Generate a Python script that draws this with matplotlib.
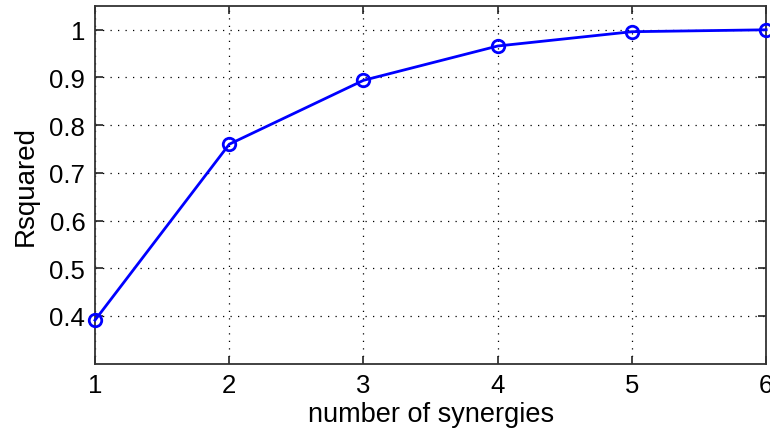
import matplotlib
matplotlib.use('Agg')
import matplotlib.pyplot as plt

# R-squared of the reconstruction vs. number of synergies
n_synergies = [1, 2, 3, 4, 5, 6]
rsquared = [0.391, 0.760, 0.894, 0.966, 0.996, 1.000]
ytick_vals = [0.4, 0.5, 0.6, 0.7, 0.8, 0.9, 1.0]
ytick_labels = ['0.4', '0.5', '0.6', '0.7', '0.8', '0.9', '1']

plt.rcParams['font.family'] = ['Liberation Sans', 'DejaVu Sans']

fig = plt.figure(figsize=(7.7, 4.35), dpi=100)
ax = fig.add_axes([0.1234, 0.162, 0.8716, 0.822])

ax.plot(n_synergies, rsquared, color='#0000ff', lw=2, marker='o',
        markersize=9, markerfacecolor='none', markeredgewidth=2,
        clip_on=False, zorder=3)

ax.set_xlim(1, 6)
ax.set_ylim(0.3, 1.05)
ax.set_xticks(n_synergies)
ax.set_yticks(ytick_vals)
ax.set_yticklabels(ytick_labels)

ax.grid(True, linestyle=(0, (1, 5)), color='black', linewidth=0.9)
ax.tick_params(direction='in', length=6, width=1.2, labelsize=18.5,
               top=True, right=True, pad=7, colors='#222222',
               labelcolor='black')
for sp in ax.spines.values():
    sp.set_linewidth(1.3)
    sp.set_color('#333333')

ax.set_xlabel('number of synergies', fontsize=19.5, labelpad=3)
ax.set_ylabel('Rsquared', fontsize=20, labelpad=8)

fig.savefig('out.png', dpi=100)
